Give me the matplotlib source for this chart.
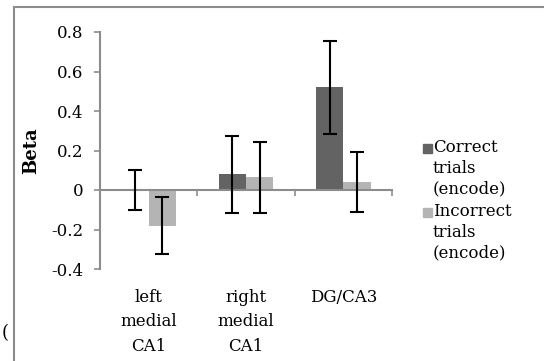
import numpy as np
import matplotlib.pyplot as plt
from matplotlib.patches import Rectangle
from matplotlib.lines import Line2D

plt.rcParams['font.family'] = ['DejaVu Serif']

categories = ['left\nmedial\nCA1', 'right\nmedial\nCA1', 'DG/CA3']
correct = [0.0, 0.08, 0.52]
correct_err = [0.10, 0.195, 0.235]
incorrect = [-0.18, 0.065, 0.04]
incorrect_err = [0.145, 0.18, 0.15]
series_labels = ['Correct\ntrials\n(encode)', 'Incorrect\ntrials\n(encode)']
yticks = [-0.4, -0.2, 0, 0.2, 0.4, 0.6, 0.8]

c_dark = '#636363'
c_light = '#b4b4b4'
axis_gray = '#8c8c8c'

W, H = 544, 361
fig = plt.figure(figsize=(W/100, H/100), dpi=100)
ax = fig.add_axes([100/W, 1-269/H, 292/W, 237/H])

x = np.arange(len(categories)) + 0.5
w = 0.28
ax.bar(x - 0.14, correct, w, color=c_dark, zorder=2)
ax.bar(x + 0.14, incorrect, w, color=c_light, zorder=2)
ax.errorbar(x - 0.14, correct, yerr=correct_err, fmt='none', ecolor='black',
            elinewidth=1.5, capsize=5, capthick=1.5, zorder=3)
ax.errorbar(x + 0.14, incorrect, yerr=incorrect_err, fmt='none', ecolor='black',
            elinewidth=1.5, capsize=5, capthick=1.5, zorder=3)

ax.set_xlim(0, 3)
ax.set_ylim(-0.4, 0.8)
ax.set_yticks(yticks)
ax.set_yticklabels(['-0.4', '-0.2', '0', '0.2', '0.4', '0.6', '0.8'], fontsize=12)
ax.tick_params(axis='y', direction='out', length=4, width=1.2, color=axis_gray, pad=8)

for s in ['top', 'right']:
    ax.spines[s].set_visible(False)
ax.spines['left'].set_color(axis_gray)
ax.spines['left'].set_linewidth(1.5)
ax.spines['bottom'].set_position(('data', 0))
ax.spines['bottom'].set_color(axis_gray)
ax.spines['bottom'].set_linewidth(1.5)
ax.set_xticks([0, 1, 2, 3])
ax.set_xticklabels([])
ax.tick_params(axis='x', direction='out', length=4, width=1.2, color=axis_gray)

for xi, lab in zip(x, categories):
    ax.text(xi, -0.50, lab, ha='center', va='top', fontsize=12, linespacing=1.58)

ax.set_ylabel('Beta', fontsize=13, fontweight='bold', labelpad=8)

# legend
for i, (lab, col) in enumerate(zip(series_labels, [c_dark, c_light])):
    ytop = 139 + i * 64
    fig.add_artist(Rectangle((423/W, 1-(ytop+14)/H), 9/W, 9/H, color=col,
                             transform=fig.transFigure))
    fig.text(433/W, 1-ytop/H, lab, ha='left', va='top', fontsize=12, linespacing=1.28)

# outer frame
fig.add_artist(Line2D([14/W, 14/W], [0, 1-7/H], color=axis_gray, lw=1.5))
fig.add_artist(Line2D([14/W, 1], [1-7/H, 1-7/H], color=axis_gray, lw=1.5))
fig.text(2/W, 1-333/H, '(', fontsize=13, va='center')

fig.savefig('out.png', dpi=100)
